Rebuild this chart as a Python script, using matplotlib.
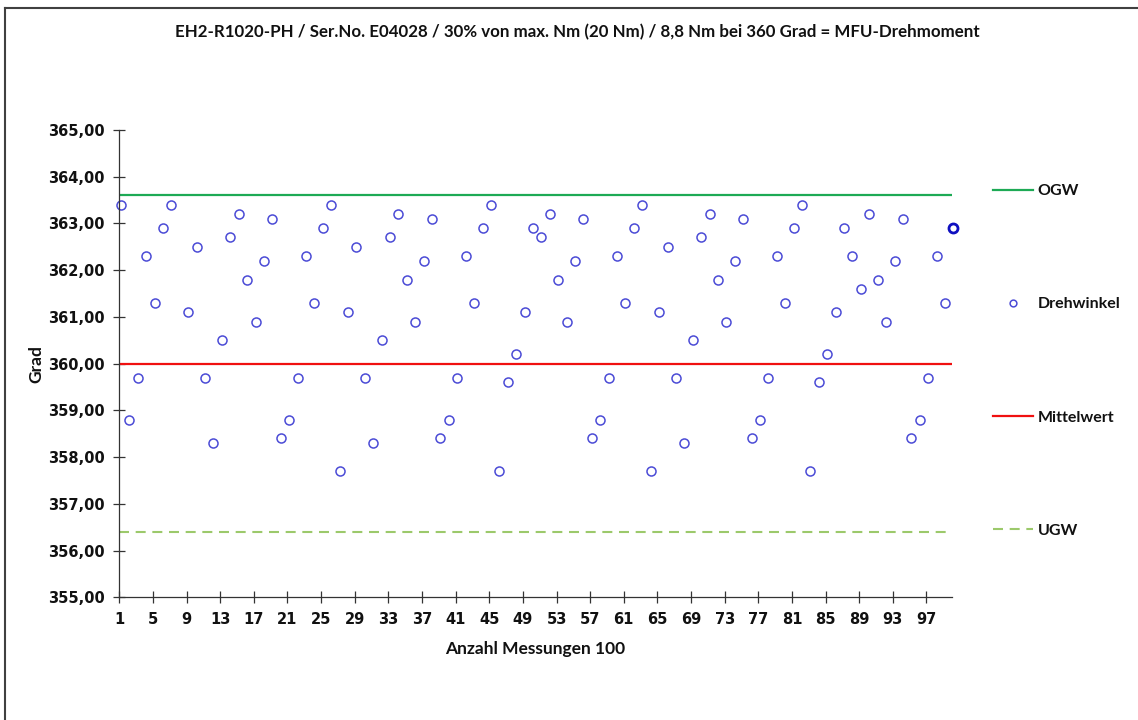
import numpy as np
import matplotlib
matplotlib.use("Agg")
import matplotlib.pyplot as plt
from matplotlib.lines import Line2D

# Messwerte Drehwinkel [Grad], Messung 1..100 (Nr. 8 fehlt)
drehwinkel = [
    363.4, 358.8, 359.7, 362.3, 361.3, 362.9, 363.4, np.nan, 361.1, 362.5,
    359.7, 358.3, 360.5, 362.7, 363.2, 361.8, 360.9, 362.2, 363.1, 358.4,
    358.8, 359.7, 362.3, 361.3, 362.9, 363.4, 357.7, 361.1, 362.5, 359.7,
    358.3, 360.5, 362.7, 363.2, 361.8, 360.9, 362.2, 363.1, 358.4, 358.8,
    359.7, 362.3, 361.3, 362.9, 363.4, 357.7, 359.6, 360.2, 361.1, 362.9,
    362.7, 363.2, 361.8, 360.9, 362.2, 363.1, 358.4, 358.8, 359.7, 362.3,
    361.3, 362.9, 363.4, 357.7, 361.1, 362.5, 359.7, 358.3, 360.5, 362.7,
    363.2, 361.8, 360.9, 362.2, 363.1, 358.4, 358.8, 359.7, 362.3, 361.3,
    362.9, 363.4, 357.7, 359.6, 360.2, 361.1, 362.9, 362.3, 361.6, 363.2,
    361.8, 360.9, 362.2, 363.1, 358.4, 358.8, 359.7, 362.3, 361.3, 362.9,
]
messung = np.arange(1, len(drehwinkel) + 1)

ogw = 363.6
mittelwert = 360.0
ugw = 356.4

x_ticks = list(range(1, 100, 4))
y_ticks = [355, 356, 357, 358, 359, 360, 361, 362, 363, 364, 365]

title = "EH2-R1020-PH / Ser.No. E04028 / 30% von max. Nm (20 Nm) / 8,8 Nm bei 360 Grad = MFU-Drehmoment"

W, H = 1138, 720
fig = plt.figure(figsize=(W / 100, H / 100), dpi=100)
ax = fig.add_axes([119.3 / W, 1 - 597.3 / H, (951.7 - 119.3) / W, (597.3 - 130.0) / H])

axis_col = "#333333"
green = "#1DAA55"
red = "#F01010"
light_green = "#9CC96B"
blue = "#4B4BD6"

ax.axhline(ogw, color=green, lw=1.6, label="OGW")
ax.plot(messung + 0.2, drehwinkel, ls="none", marker="o", ms=6.5, mfc="none",
        mec=blue, mew=1.1, label="Drehwinkel", clip_on=False)
ax.plot(messung[-1:] + 0.2, drehwinkel[-1:], ls="none", marker="o", ms=6.5,
        mfc="none", mec="#1010C0", mew=2.0, clip_on=False)
ax.axhline(mittelwert, color=red, lw=1.6, label="Mittelwert")
ax.axhline(ugw, color=light_green, lw=1.5, dashes=(4.8, 3.2), label="UGW")

ax.set_xlim(1, 100)
ax.set_ylim(355, 365)
ax.set_xticks(x_ticks)
ax.set_yticks(y_ticks)
ax.set_yticklabels([f"{v:.2f}".replace(".", ",") for v in y_ticks])

for s in ["top", "right"]:
    ax.spines[s].set_visible(False)
for s in ["left", "bottom"]:
    ax.spines[s].set_color(axis_col)
    ax.spines[s].set_linewidth(0.9)

ax.tick_params(direction="inout", length=8.5, width=0.9, color=axis_col,
               pad=6.5, labelsize=10.5)
for lab in ax.get_xticklabels() + ax.get_yticklabels():
    lab.set_fontweight("bold")
    lab.set_family("DejaVu Sans")
    lab.set_color("#111111")

lab_font = dict(family="Lato", weight="bold", size=12.5, color="#111111")
ax.set_xlabel("Anzahl Messungen 100", **lab_font)
ax.xaxis.set_label_coords(0.5, -(649 - 597.3) / (597.3 - 130.0))
ax.xaxis.label.set_va("center")
ax.set_ylabel("Grad", **lab_font)
ax.yaxis.set_label_coords(-(119.3 - 36) / (951.7 - 119.3), 0.5)
ax.yaxis.label.set_va("center")

fig.text(577.5 / W, 1 - 32 / H, title, ha="center", va="center",
         family="Lato", weight="bold", size=12.2, color="#111111")

handles, labels = ax.get_legend_handles_labels()
leg = fig.legend(handles, labels, loc="upper left",
                 bbox_to_anchor=(993 / W, 1 - 184 / H),
                 frameon=False, borderpad=0, borderaxespad=0,
                 handlelength=2.5, handletextpad=0.3, labelspacing=6.2,
                 markerscale=0.75,
                 prop=dict(family="Lato", weight="bold", size=11.5))
for t in leg.get_texts():
    t.set_color("#111111")

# Rahmen des Diagrammbereichs (oben und links sichtbar)
fig.add_artist(Line2D([5 / W, 5 / W], [0, 1 - 8 / H], transform=fig.transFigure,
                      color="#404040", lw=1.5))
fig.add_artist(Line2D([5 / W, 1], [1 - 8 / H, 1 - 8 / H], transform=fig.transFigure,
                      color="#404040", lw=1.5))

fig.savefig("out.png", dpi=100)
